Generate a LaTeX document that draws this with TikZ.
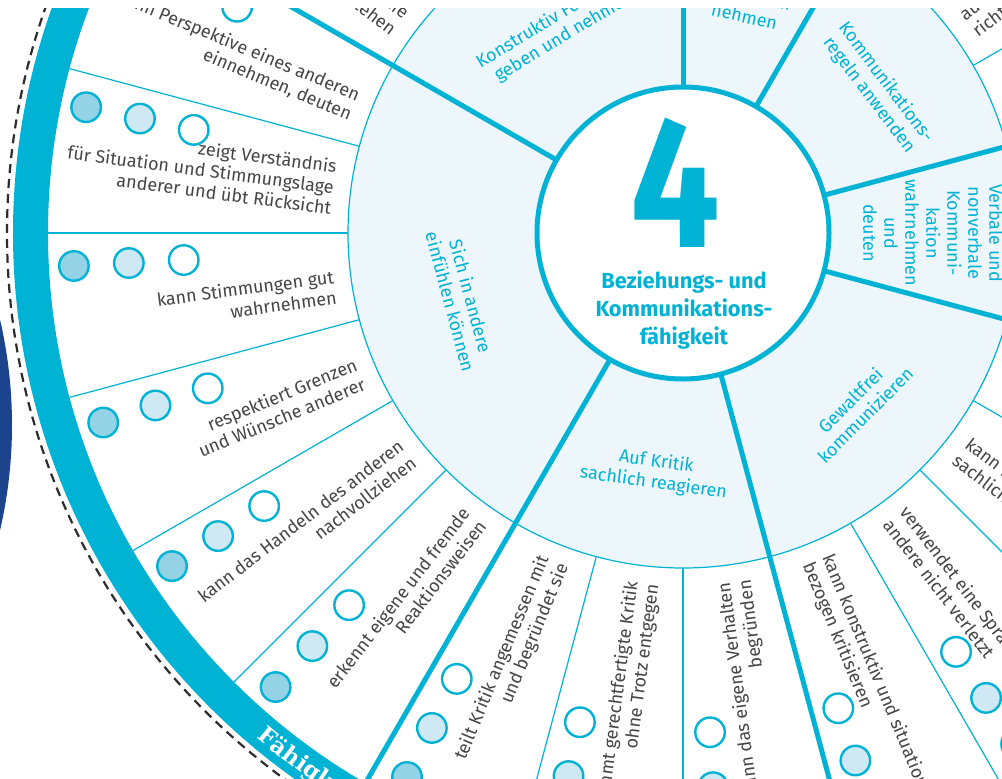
\documentclass[tikz,border=0pt]{standalone}
\usepackage{fontspec}
\setmainfont{Fira Sans}
\newfontfamily\slabfont{DejaVu Serif}
\usetikzlibrary{decorations.text}
\definecolor{cy}{RGB}{0,178,212}
\definecolor{pale}{RGB}{237,247,251}
\definecolor{dotdark}{RGB}{148,211,230}
\definecolor{dotmid}{RGB}{207,233,244}
\definecolor{txt}{RGB}{70,70,70}
\definecolor{navy}{RGB}{28,68,140}
\definecolor{dashgray}{RGB}{45,45,45}
\newcommand\myitemfont{\fontsize{18}{21}\selectfont}
\newcommand\mysegfont{\fontsize{18}{21}\selectfont}
\newcommand\mytitlefont{\bfseries\fontsize{21.8}{28}\selectfont}
\newcommand\myfourfont{\bfseries\fontsize{187}{187}\selectfont}
\newcommand\mybandfont{\slabfont\bfseries\fontsize{23}{26}\selectfont\color{white}}
\begin{document}
\begin{tikzpicture}[x=1pt,y=1pt,
  thicksep/.style={draw=cy, line width=5pt},
  thinsep/.style={draw=cy, line width=1.2pt},
  itemin/.style={anchor=east, align=right, inner sep=0pt, text=txt, font=\myitemfont},
  itemout/.style={anchor=west, align=left, inner sep=0pt, text=txt, font=\myitemfont},
  seglabel/.style={align=center, text=cy, inner sep=0pt, font=\mysegfont},
  dot/.style={circle, draw=cy, line width=2.4pt, minimum size=29.5pt, inner sep=0pt},
]
\useasboundingbox (0,0) rectangle (1002,-779);
\fill[white] (0,0) rectangle (1002,-779);
\clip (0,-8) rectangle (1002,-779);
\fill[navy] (-453,-425) circle (465);
\begin{scope}[shift={(683,-233)}]
  % inner ring
  \fill[pale] (0,0) circle (335);
  \draw[thinsep] (0,0) circle (335);
  % thin separators
  \foreach \a in {165,180,195,210,225,30,-30,-45,-60,-90,-105}
    \draw[thinsep] (\a:335) -- (\a:637);
  % thick separators
  \foreach \a in {150,90,60,15,-15,-75,-120}
    \draw[thicksep] (\a:140) -- (\a:637);
  % central circle
  \draw[cy, line width=5pt, fill=white] (0,0) circle (146);
  % outer band
  \fill[cy, even odd rule] (0,0) circle (670) (0,0) circle (635);
  \draw[dashgray, line width=2.2pt, dash pattern=on 9pt off 6pt] (0,0) circle (676);
  \path[decorate, decoration={text along path, text={|\mybandfont|Fähigkeiten}, text align=left}]
    (229.8:661) arc[start angle=229.8, end angle=300, radius=661];
  % dots
  \foreach \a/\n in {157.5/1,172.5/2,187.5/3,202.5/4,217.5/5,232.5/6,-112.5/7,-97.5/8,-82.5/9,-67.5/10,-52.5/11}{
    \node[dot, fill=white] (dw\n) at ({\a-4.4}:500) {};
    \node[dot, fill=dotmid] (dm\n) at ({\a-4.4}:555) {};
    \node[dot, fill=dotdark] (dd\n) at ({\a-4.4}:610) {};
  }
  % centre
  \node[text=cy, inner sep=0pt, font=\myfourfont] (four) at (-8,50.5) {\scalebox{0.85}[1]{4}};
  \node[text=cy, inner sep=0pt, font=\mytitlefont, align=center] (title) at (1,-77) {Beziehungs- und\\Kommunikations-\\fähigkeit};
  % segment labels
  \node[seglabel, rotate=-75] (lsich) at (196.5:232) {Sich in andere\\einfühlen können};
  \node[seglabel, rotate=31] (lkon) at (121.3:240) {Konstruktiv Feedback\\geben und nehmen};
  \node[seglabel, rotate=-12, anchor=south] (lnehm) at (60,210) {Kontakt auf-\\nehmen};
  \node[seglabel, rotate=-53] (lreg) at (36.6:242) {Kommunikations-\\regeln anwenden};
  \node[seglabel, rotate=-90] (lverb) at (0:250) {Verbale und\\nonverbale\\Kommuni-\\kation\\wahrnehmen\\und\\deuten};
  \node[seglabel, rotate=45] (lgew) at (-45:247) {Gewaltfrei\\kommunizieren};
  \node[seglabel, rotate=-8] (lauf) at (-96.7:241) {Auf Kritik\\sachlich reagieren};
  % item texts, inward reading
  \node[itemin, rotate=-37.5] (f1) at (143.3:352) {kann Rückmeldungen als Hilfe\\verstehen};
  \node[itemin, rotate=-22.5] (s1) at (158.8:352) {kann Perspektive eines anderen\\einnehmen, deuten};
  \node[itemin, rotate=-7.5] (s2) at (172.5:352) {zeigt Verständnis\\für Situation und Stimmungslage\\anderer und übt Rücksicht};
  \node[itemin, rotate=7.5] (s3) at (188.8:352) {kann Stimmungen gut\\wahrnehmen};
  \node[itemin, rotate=22.5] (s4) at (203.5:352) {respektiert Grenzen\\und Wünsche anderer};
  \node[itemin, rotate=37.5] (s5) at (218.5:352) {kann das Handeln des anderen\\nachvollziehen};
  \node[itemin, rotate=52.5] (s6) at (233.5:352) {erkennt eigene und fremde\\Reaktionsweisen};
  \node[itemin, rotate=67.5] (k1) at (-111.5:352) {teilt Kritik angemessen mit\\und begründet sie};
  \node[itemin, rotate=82.5] (k2) at (-96.5:352) {nimmt gerechtfertigte Kritik\\ohne Trotz entgegen};
  \node[itemin, rotate=97.5] (k3) at (-81.5:352) {kann das eigene Verhalten\\begründen};
  % item texts, outward reading
  \node[itemout, rotate=-67.5] (g1) at (-67.7:353) {kann konstruktiv und situations-\\bezogen kritisieren};
  \node[itemout, rotate=-52.5] (g2) at (-52.9:353) {verwendet eine Sprache, die\\andere nicht verletzt};
  \node[itemout, rotate=-37.5] (g3) at (-37.9:353) {kann Konflikte\\sachlich lösen};
  \node[itemout, rotate=37.5] (r2) at (36:353) {auf andere eingehen und\\richtig zuhören};
\end{scope}
\end{tikzpicture}
\end{document}
